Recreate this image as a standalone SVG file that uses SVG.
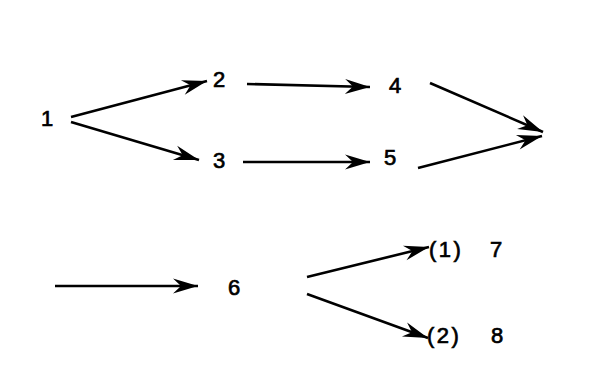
<svg xmlns="http://www.w3.org/2000/svg" width="600" height="371" viewBox="0 0 600 371">
<defs>
<marker id="ah" markerUnits="userSpaceOnUse" markerWidth="30" markerHeight="20" viewBox="-26 -10 30 20" refX="0" refY="0" orient="auto">
<path d="M0,0 L-25,-7.5 L-17,0 L-25,7.5 Z" fill="#000"/>
</marker>
</defs>
<style>
.t{font-family:"Liberation Sans",Arial,sans-serif;font-size:22px;fill:#000;stroke:#000;stroke-width:0.7;text-anchor:middle}
.p{text-anchor:start;letter-spacing:2.5px}
.c line{stroke:#000;stroke-width:2.6;marker-end:url(#ah)}
</style>
<rect width="600" height="371" fill="#fff"/>
<g class="c" id="connectors">
<line x1="71" y1="117" x2="207" y2="81"/>
<line x1="71" y1="122" x2="199" y2="160"/>
<line x1="247" y1="84" x2="370" y2="87"/>
<line x1="243" y1="162" x2="370" y2="162"/>
<line x1="430" y1="83" x2="543" y2="132"/>
<line x1="418" y1="168" x2="542" y2="136"/>
<line x1="55" y1="286" x2="198" y2="286"/>
<line x1="307" y1="277" x2="429" y2="247"/>
<line x1="307" y1="294" x2="428" y2="338"/>
</g>
<g id="n1"><text class="t" x="47" y="126">1</text></g>
<g id="n2"><text class="t" x="219" y="87">2</text></g>
<g id="n3"><text class="t" x="219" y="168">3</text></g>
<g id="n4"><text class="t" x="395" y="93">4</text></g>
<g id="n5"><text class="t" x="390" y="165">5</text></g>
<g id="n6"><text class="t" x="234" y="295">6</text></g>
<g id="n7"><text class="t p" x="429" y="257">(1)</text><text class="t" x="496" y="257">7</text></g>
<g id="n8"><text class="t p" x="427" y="343">(2)</text><text class="t" x="497" y="343">8</text></g>
</svg>
